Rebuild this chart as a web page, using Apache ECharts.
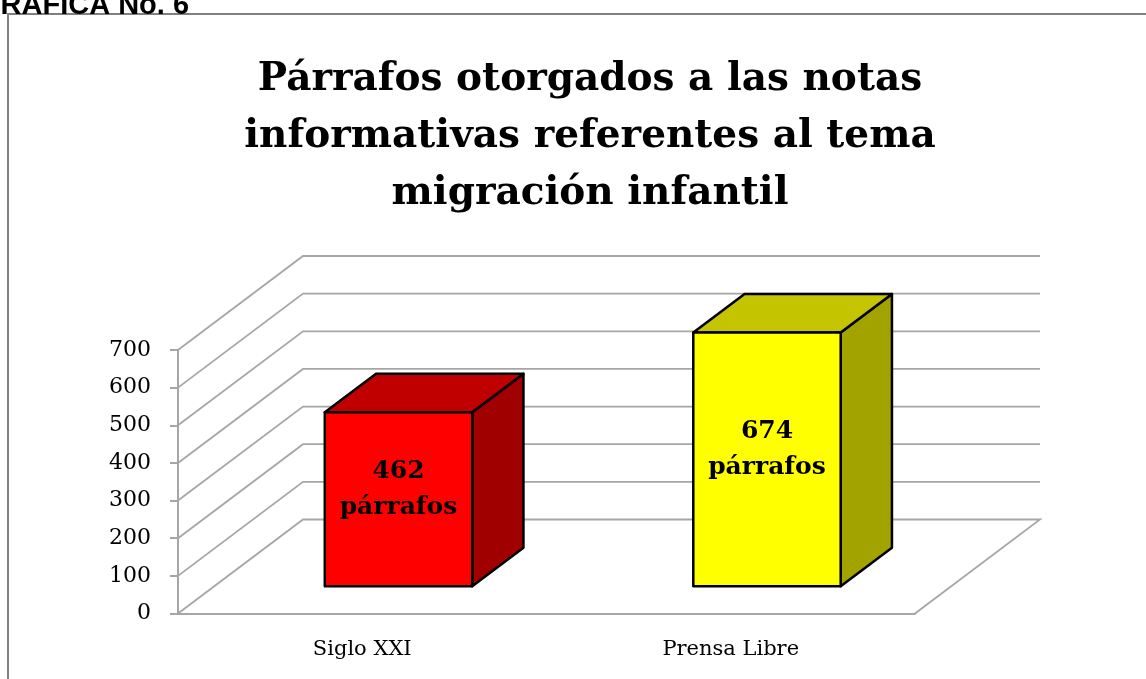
<!DOCTYPE html>
<html>
<head>
    <meta charset="utf-8">
    <title>Párrafos otorgados</title>
    <script src="https://cdn.jsdelivr.net/npm/echarts@6/dist/echarts.min.js"></script>
    <style>
        html, body { margin: 0; padding: 0; background: #fff; }
        #main { width: 1146px; height: 679px; }
    </style>
</head>
<body>
<div id="main"></div>
<script>
    // datos de la gráfica
    var categorias = ['Siglo XXI', 'Prensa Libre'];
    var parrafos = [462, 674];
    var etiquetas = ['462\npárrafos', '674\npárrafos'];
    var ticksY = [0, 100, 200, 300, 400, 500, 600, 700];

    var colores = [
        { frente: '#ff0000', arriba: '#c00000', lado: '#a00000' },
        { frente: '#ffff00', arriba: '#c4c400', lado: '#a3a300' }
    ];

    // profundidad del "3D" en pixeles
    var DX = 125, DY = -94;
    var F1 = 0.29, F2 = 0.70;
    var gris = '#a6a6a6';
    var serif = 'DejaVu Serif';

    var myChart = echarts.init(document.getElementById('main'));

    var option = {
        backgroundColor: '#fff',
        animation: false,
        title: {
            text: 'Párrafos otorgados a las notas\ninformativas referentes al tema\nmigración infantil',
            left: 585,
            top: 46,
            textAlign: 'center',
            textStyle: {
                fontFamily: serif,
                fontWeight: 'bold',
                fontSize: 39,
                lineHeight: 57,
                color: '#000'
            }
        },
        graphic: [
            {
                type: 'rect',
                shape: { x: 8, y: 14, width: 1150, height: 700 },
                style: { fill: 'none', stroke: '#808080', lineWidth: 2 },
                z: 0
            },
            {
                type: 'text',
                left: -22,
                top: -9,
                style: {
                    text: 'GRAFICA No. 6',
                    fontFamily: 'Liberation Sans',
                    fontWeight: 'bold',
                    fontSize: 29,
                    fill: '#000'
                }
            }
        ],
        grid: { left: 178, right: 231, top: 350, bottom: 65.5 },
        xAxis: {
            type: 'category',
            data: categorias,
            axisLine: { lineStyle: { color: gris, width: 2 } },
            axisTick: { length: 8, lineStyle: { color: gris, width: 2 } },
            axisLabel: {
                margin: 26,
                fontFamily: serif,
                fontSize: 21,
                color: '#000'
            },
            splitLine: { show: false }
        },
        yAxis: {
            type: 'value',
            min: 0,
            max: 700,
            interval: 100,
            axisLine: { show: true, lineStyle: { color: gris, width: 2 } },
            axisTick: { show: true, length: 8, lineStyle: { color: gris, width: 2 } },
            axisLabel: {
                margin: 27,
                fontFamily: serif,
                fontSize: 22,
                color: '#000'
            },
            splitLine: { show: false }
        },
        series: [
            {
                // paredes y piso
                type: 'custom',
                z: 1,
                silent: true,
                data: ticksY.map(function (v) { return [0, v]; }),
                renderItem: function (params, api) {
                    var cs = params.coordSys;
                    var L = cs.x, R = cs.x + cs.width;
                    var y = api.coord([0, api.value(1)])[1];
                    var pts = [[L, y], [L + DX, y + DY], [R + DX, y + DY]];
                    if (api.value(1) === 0) pts.push([R, y]);
                    return {
                        type: 'polyline',
                        shape: { points: pts },
                        style: { stroke: gris, lineWidth: 1.8, fill: null }
                    };
                }
            },
            {
                // barras 3D
                type: 'custom',
                z: 2,
                data: parrafos.map(function (v, i) { return [i, v]; }),
                renderItem: function (params, api) {
                    var i = api.value(0);
                    var base = api.coord([i, 0]);
                    var top = api.coord([i, api.value(1)]);
                    var band = api.size([1, 0])[0];
                    var w = band * 0.4;
                    var x0 = base[0] - w / 2 + F1 * DX;
                    var x1 = x0 + w;
                    var yb = base[1] + F1 * DY;
                    var yt = top[1] + F1 * DY;
                    var bx = (F2 - F1) * DX, by = (F2 - F1) * DY;
                    var c = colores[i];
                    var st = { stroke: '#000', lineWidth: 2.5, lineJoin: 'round' };
                    return {
                        type: 'group',
                        children: [
                            {
                                type: 'polygon',
                                shape: { points: [[x1, yb], [x1 + bx, yb + by], [x1 + bx, yt + by], [x1, yt]] },
                                style: Object.assign({ fill: c.lado }, st)
                            },
                            {
                                type: 'polygon',
                                shape: { points: [[x0, yt], [x0 + bx, yt + by], [x1 + bx, yt + by], [x1, yt]] },
                                style: Object.assign({ fill: c.arriba }, st)
                            },
                            {
                                type: 'rect',
                                shape: { x: x0, y: yt, width: w, height: yb - yt },
                                style: Object.assign({ fill: c.frente }, st)
                            },
                            {
                                type: 'text',
                                style: {
                                    text: etiquetas[i],
                                    x: (x0 + x1) / 2,
                                    y: (yt + yb) / 2 - 10,
                                    align: 'center',
                                    verticalAlign: 'middle',
                                    fontFamily: serif,
                                    fontWeight: 'bold',
                                    fontSize: 25,
                                    lineHeight: 36,
                                    fill: '#000'
                                }
                            }
                        ]
                    };
                }
            }
        ]
    };

    myChart.setOption(option);
</script>
</body>
</html>
